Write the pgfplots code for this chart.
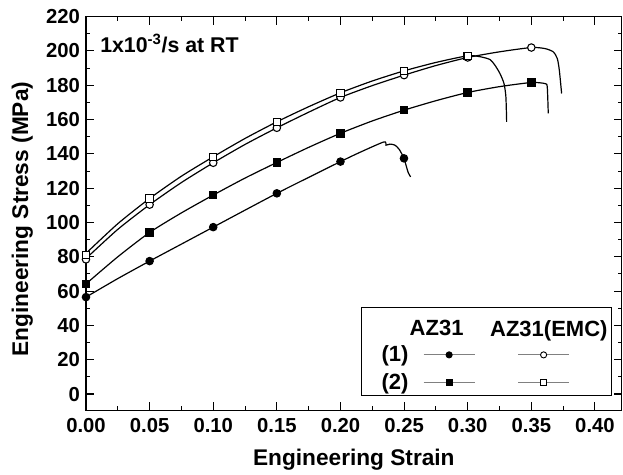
\documentclass[border=0pt]{standalone}
\usepackage{fontspec}
\setmainfont{Liberation Sans}
\usepackage{pgfplots}
\pgfplotsset{compat=1.18}

\newcommand{\lgfont}{\fontsize{16.5}{19}\selectfont\bfseries}
\newcommand{\lbfont}{\fontsize{17}{20}\selectfont\bfseries}

\begin{document}
\begin{tikzpicture}
\begin{axis}[
  scale only axis,
  width=401.8pt, height=295.4pt,
  xmin=0, xmax=0.421, ymin=-9.6, ymax=220,
  xtick={0,0.05,0.1,0.15,0.2,0.25,0.3,0.35,0.4},
  ytick={0,20,...,220},
  minor x tick num=1, minor y tick num=1,
  major tick length=6pt, minor tick length=3pt,
  tick style={black, line width=0.8pt},
  axis line style={line width=1pt},
  /pgf/number format/assume math mode=true,
  ticklabel style={font=\fontsize{15.2}{17}\selectfont\bfseries},
  xticklabel style={yshift=-2pt, /pgf/number format/.cd, fixed, fixed zerofill, precision=2},
  yticklabel style={xshift=-1pt},
  xlabel={Engineering Strain},
  ylabel={Engineering Stress (MPa)},
  label style={font=\lbfont},
  xlabel style={at={(axis description cs:0.5,-0.140)}, anchor=base},
  ylabel style={at={(axis description cs:-0.119,0.486)}, anchor=center},
  legend columns=3,
  legend cell align=left,
  legend style={at={(rel axis cs:0.982,0.037)}, anchor=south east,
    draw=black, line width=0.8pt, inner sep=1pt, font=\lgfont,
    nodes={inner xsep=1pt, inner ysep=2pt},
    /tikz/every odd column/.style={column sep=0pt},
    /tikz/every even column/.style={column sep=0pt},
    row sep=3.2pt},
]
% lines
\addplot[black, line width=0.9pt, smooth, tension=0.4, forget plot] coordinates {
(0,56.5)(0.025,67.3)(0.05,77.5)(0.075,87.4)(0.10,97.3)(0.125,107.2)(0.15,117.0)
(0.175,126.3)(0.20,135.5)(0.215,140.8)(0.2342,147.0)(0.2358,145.1)(0.2389,145.7)
(0.2428,145.1)(0.2462,142.6)(0.2499,137.4)(0.252,132.1)(0.2533,129.0)(0.2551,126.6)};
\addplot[black, line width=0.9pt, smooth, tension=0.4, forget plot] coordinates {
(0,64.2)(0.025,80.0)(0.05,94.2)(0.075,105.6)(0.10,116.0)(0.125,125.9)(0.15,135.0)
(0.175,143.8)(0.20,152.0)(0.225,159.2)(0.25,165.5)(0.275,171.0)(0.30,175.8)
(0.325,179.2)(0.35,181.6)(0.3607,181.0)(0.3625,179.1)(0.3633,163.6)};
\addplot[black, line width=0.9pt, smooth, tension=0.4, forget plot] coordinates {
(0,79.0)(0.025,96.0)(0.05,110.4)(0.075,123.3)(0.10,134.8)(0.125,145.5)(0.15,155.2)
(0.175,164.3)(0.20,172.9)(0.225,179.8)(0.25,185.9)(0.275,191.5)(0.30,196.2)
(0.325,199.5)(0.35,202.0)(0.3607,201.4)(0.3672,199.5)(0.3704,195.6)(0.3720,188.8)(0.3738,175.2)};
\addplot[black, line width=0.9pt, smooth, tension=0.4, forget plot] coordinates {
(0,82.0)(0.025,99.3)(0.05,114.0)(0.075,127.0)(0.10,138.3)(0.125,149.0)(0.15,158.7)
(0.175,167.5)(0.20,175.6)(0.225,182.5)(0.25,188.4)(0.275,193.3)(0.30,197.2)(0.31,196.6)
(0.3175,195.0)(0.3214,191.7)(0.3253,186.9)(0.3285,181.1)(0.330,173.3)(0.3306,158.7)};
% markers
\addplot[only marks, mark=*, mark size=2.8pt, mark options={black, fill=black, line width=0.8pt}, forget plot] coordinates {
(0,56.5)(0.05,77.5)(0.10,97.3)(0.15,117.0)(0.20,135.5)(0.2499,137.4)};
\addplot[only marks, mark=square*, mark size=2.8pt, mark options={black, fill=black, line width=0.8pt}, forget plot] coordinates {
(0,64.2)(0.05,94.2)(0.10,116.0)(0.15,135.0)(0.20,152.0)(0.25,165.5)(0.30,175.8)(0.35,181.6)};
\addplot[only marks, mark=*, mark size=2.8pt, mark options={black, fill=white, line width=0.8pt}, forget plot] coordinates {
(0,78.5)(0.05,110.4)(0.10,134.8)(0.15,155.2)(0.20,172.9)(0.25,185.9)(0.30,196.2)(0.35,202.0)};
\addplot[only marks, mark=square*, mark size=2.8pt, mark options={black, fill=white, line width=0.8pt}, forget plot] coordinates {
(0,81.0)(0.05,114.0)(0.10,138.3)(0.15,158.7)(0.20,175.6)(0.25,188.4)(0.30,197.2)};

\node[anchor=base west, inner sep=0pt, font=\fontsize{16}{18}\selectfont\bfseries] at (axis cs:0.011,199.1)
  {1x10\textsuperscript{-3}/s at RT};

% legend: header row
\addlegendimage{legend image code/.code={\path (0pt,0pt) (12pt,0pt);}}
\addlegendentry{\mbox{}}
\addlegendimage{legend image code/.code={
  \node[inner sep=0pt, font=\lgfont, anchor=center] at (9.75pt,0pt) {AZ31};
  \path (-9.75pt,-7pt) (47.5pt,14.5pt);}}
\addlegendentry{\mbox{}}
\addlegendimage{legend image code/.code={
  \node[inner sep=0pt, font=\lgfont, anchor=center] at (23pt,0pt) {AZ31(EMC)};
  \path (0pt,-7pt) (38.25pt,14.5pt);}}
\addlegendentry{\mbox{}}
% row (1)
\addlegendimage{legend image code/.code={\path (0pt,0pt) (12pt,0pt);}}
\addlegendentry{(1)}
\addlegendimage{mark=*, mark size=2.3pt, mark options={black, fill=black, line width=0.7pt},
  legend image code/.code={
  \draw[gray, line width=0.8pt] (0pt,0pt) -- (38.25pt,0pt);
  \path plot[only marks] coordinates {(19.1pt,0pt)};
  \path (-9.75pt,0pt) (47.5pt,0pt);}}
\addlegendentry{\mbox{}}
\addlegendimage{mark=*, mark size=2.3pt, mark options={black, fill=white, line width=0.7pt},
  legend image code/.code={
  \draw[gray, line width=0.8pt] (0pt,0pt) -- (38.25pt,0pt);
  \path plot[only marks] coordinates {(19.1pt,0pt)};}}
\addlegendentry{\mbox{}}
% row (2)
\addlegendimage{legend image code/.code={\path (0pt,0pt) (12pt,0pt);}}
\addlegendentry{(2)}
\addlegendimage{mark=square*, mark size=2.3pt, mark options={black, fill=black, line width=0.7pt},
  legend image code/.code={
  \draw[gray, line width=0.8pt] (0pt,0pt) -- (38.25pt,0pt);
  \path plot[only marks] coordinates {(19.1pt,0pt)};
  \path (-9.75pt,0pt) (47.5pt,0pt);}}
\addlegendentry{\mbox{}}
\addlegendimage{mark=square*, mark size=2.3pt, mark options={black, fill=white, line width=0.7pt},
  legend image code/.code={
  \draw[gray, line width=0.8pt] (0pt,0pt) -- (38.25pt,0pt);
  \path plot[only marks] coordinates {(19.1pt,0pt)};}}
\addlegendentry{\mbox{}}
\end{axis}
\path ([shift={(-64.5pt,-46.9pt)}]current axis.south west) rectangle ([shift={(1pt,12.5pt)}]current axis.north east);
\end{tikzpicture}
\end{document}
